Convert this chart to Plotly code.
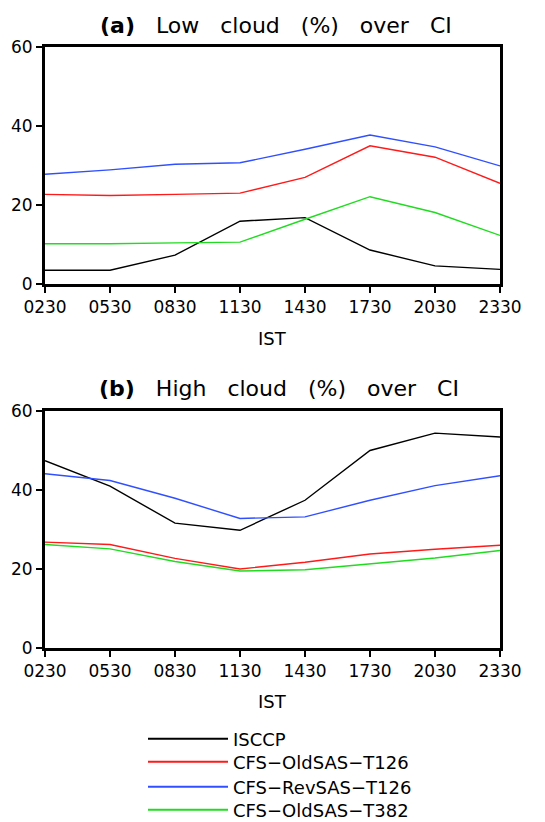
import plotly.graph_objects as go

times = ["0230", "0530", "0830", "1130", "1430", "1730", "2030", "2330"]
series_names = ["ISCCP", "CFS\u2212OldSAS\u2212T126", "CFS\u2212RevSAS\u2212T126", "CFS\u2212OldSAS\u2212T382"]
colors = ["#000000", "#ff1a1a", "#3050ff", "#20dc20"]

low_isccp = [3.5, 3.5, 7.3, 15.9, 16.8, 8.6, 4.6, 3.7]
low_old126 = [22.7, 22.4, 22.7, 23.0, 27.0, 35.0, 32.1, 25.5]
low_rev126 = [27.8, 28.9, 30.3, 30.7, 34.1, 37.7, 34.7, 29.9]
low_old382 = [10.2, 10.2, 10.4, 10.6, 16.4, 22.1, 18.1, 12.3]

high_isccp = [47.4, 41.0, 31.6, 29.8, 37.4, 50.0, 54.4, 53.4]
high_old126 = [26.8, 26.2, 22.7, 20.0, 21.7, 23.8, 25.0, 26.0]
high_rev126 = [44.1, 42.4, 37.9, 32.8, 33.2, 37.4, 41.1, 43.6]
high_old382 = [26.2, 25.1, 21.9, 19.5, 19.8, 21.3, 22.8, 24.7]

y_ticks = [0, 20, 40, 60]

FONT = "DejaVu Sans"
xidx = list(range(len(times)))

# page body has an 8px margin: figure is drawn 8px in from the window corner
OFF = 8
W, H = 545 - OFF, 822 - OFF
top_px, bot_px = 47, 648          # window coords of panel (a) top and panel (b) bottom
left_px, right_px = 45, 500
ph = bot_px - top_px
pw = right_px - left_px
def py(p):
    return (bot_px - p) / ph
def px(p):
    return (p - left_px) / pw

legend_names = ["legend", "legend2", "legend3", "legend4"]
legend_rows = [739, 762, 787, 810]

fig = go.Figure()
low = [low_isccp, low_old126, low_rev126, low_old382]
high = [high_isccp, high_old126, high_rev126, high_old382]
for i in range(4):
    fig.add_trace(go.Scatter(x=xidx, y=low[i], mode="lines", name=series_names[i],
                             line=dict(color=colors[i], width=1.4), xaxis="x", yaxis="y",
                             showlegend=False, legendgroup=str(i)))
for i in range(4):
    fig.add_trace(go.Scatter(x=xidx, y=high[i], mode="lines", name=series_names[i],
                             line=dict(color=colors[i], width=1.4), xaxis="x2", yaxis="y2",
                             showlegend=False, legendgroup=str(i)))
# legend-only entries (no data) with slightly heavier key lines, as in the original
for i in range(4):
    fig.add_trace(go.Scatter(x=[None], y=[None], mode="lines", name=series_names[i],
                             line=dict(color=colors[i], width=2), xaxis="x", yaxis="y",
                             showlegend=True, legend=legend_names[i], legendgroup=str(i),
                             hoverinfo="skip"))

axis_common = dict(showgrid=False, zeroline=False, showline=True, linecolor="black",
                   linewidth=3, mirror=True, ticks="outside", ticklen=6, tickwidth=2,
                   tickcolor="black", automargin=False,
                   tickfont=dict(family=FONT, size=17, color="black"))

legend_common = dict(xanchor="left", yanchor="middle",
                     font=dict(family=FONT, size=18, color="black"), itemwidth=80,
                     bgcolor="rgba(0,0,0,0)")

layout_legends = {}
for i, ln in enumerate(legend_names):
    layout_legends[ln] = dict(x=px(143), y=py(legend_rows[i]), **legend_common)

fig.update_layout(
    width=W, height=H,
    margin=dict(l=left_px - OFF, r=545 - right_px, t=top_px - OFF, b=822 - bot_px, autoexpand=False),
    paper_bgcolor="white", plot_bgcolor="white",
    xaxis=dict(domain=[0, 1], anchor="y", range=[0, 7], tickvals=xidx, ticktext=times, **axis_common),
    yaxis=dict(domain=[py(284), 1], anchor="x", range=[0, 60], tickvals=y_ticks, **axis_common),
    xaxis2=dict(domain=[0, 1], anchor="y2", range=[0, 7], tickvals=xidx, ticktext=times, **axis_common),
    yaxis2=dict(domain=[0, py(411)], anchor="x2", range=[0, 60], tickvals=y_ticks, **axis_common),
    showlegend=True,
    **layout_legends,
)

sp = "\u00a0\u00a0\u00a0"
ann = dict(xref="paper", yref="paper", showarrow=False, xanchor="center", yanchor="middle")
fig.add_annotation(text="<b>(a)</b>" + sp + "Low" + sp + "cloud" + sp + "(%)" + sp + "over" + sp + "CI",
                   x=px(276), y=py(25), font=dict(family=FONT, size=22, color="black"), **ann)
fig.add_annotation(text="<b>(b)</b>" + sp + "High" + sp + "cloud" + sp + "(%)" + sp + "over" + sp + "CI",
                   x=px(279), y=py(389), font=dict(family=FONT, size=22, color="black"), **ann)
fig.add_annotation(text="IST", x=px(272), y=py(338), font=dict(family=FONT, size=18, color="black"), **ann)
fig.add_annotation(text="IST", x=px(272), y=py(701), font=dict(family=FONT, size=18, color="black"), **ann)

fig.write_html("out.html")
